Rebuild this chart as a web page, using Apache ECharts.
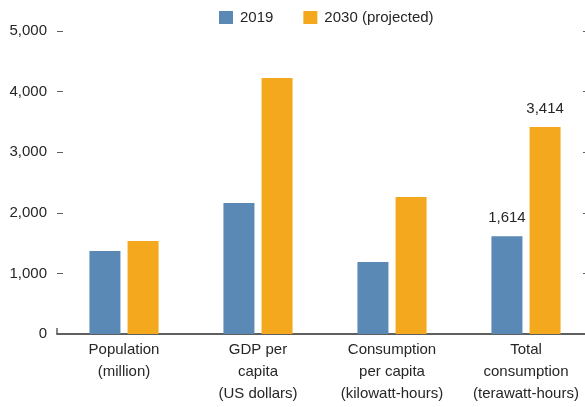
<!DOCTYPE html>
<html>
<head>
<meta charset="utf-8">
<style>
  html, body { margin: 0; padding: 0; background: #ffffff; }
  #chart { width: 585px; height: 407px; }
</style>
<script src="https://cdn.jsdelivr.net/npm/echarts@6/dist/echarts.min.js"></script>
</head>
<body>
<div id="chart"></div>
<script>
// Indicator groups along the x axis
const categories = [
  'Population\n(million)',
  'GDP per\ncapita\n(US dollars)',
  'Consumption\nper capita\n(kilowatt-hours)',
  'Total\nconsumption\n(terawatt-hours)'
];
const seriesNames = ['2019', '2030 (projected)'];
const values2019 = [1370, 2162, 1188, 1614];
const values2030 = [1535, 4224, 2261, 3414];
// Only the total consumption pair carries a value label
const labelledIndex = 3;
const yTicks = [0, 1000, 2000, 3000, 4000, 5000];

const FONT = '"Liberation Sans", Arial, sans-serif';
const TEXT = '#262626';
const AXIS = '#5f5f5f';
const BLUE = '#5a89b5';
const ORANGE = '#f4a81e';

const fmt = v => Number(v).toLocaleString('en-US');

function withLabels(arr) {
  return arr.map((v, i) => i === labelledIndex
    ? { value: v, label: { show: true } }
    : v);
}

const chart = echarts.init(document.getElementById('chart'), null, { renderer: 'canvas' });

chart.setOption({
  animation: false,
  textStyle: { fontFamily: FONT },
  legend: {
    top: 5,
    left: 214,
    itemWidth: 14,
    itemHeight: 13,
    itemGap: 30,
    icon: 'rect',
    textStyle: { fontFamily: FONT, fontSize: 15, color: TEXT, padding: [0, 0, 0, 2] },
    data: seriesNames
  },
  // the plot runs a little past the right edge of the canvas
  grid: {
    left: 57, top: 31, right: -8, height: 303,
    containLabel: false,
    outerBoundsMode: 'none'
  },
  xAxis: [
    {
      type: 'category',
      data: categories,
      axisLine: { show: true, lineStyle: { color: AXIS, width: 2 } },
      axisTick: { show: false },
      axisLabel: {
        margin: 5,
        fontFamily: FONT,
        fontSize: 15,
        color: TEXT,
        lineHeight: 22,
        interval: 0
      }
    },
    {
      // short upright mark at the left end of the baseline
      type: 'value',
      position: 'bottom',
      min: 0,
      max: 1,
      interval: 1,
      axisLine: { show: false },
      axisTick: { show: true, inside: true, length: 6, lineStyle: { color: AXIS, width: 1.5 } },
      axisLabel: { show: false },
      splitLine: { show: false }
    }
  ],
  yAxis: [
    {
      type: 'value',
      min: yTicks[0],
      max: yTicks[yTicks.length - 1],
      interval: 1000,
      axisLine: { show: false },
      axisTick: { show: true, inside: true, length: 6, lineStyle: { color: AXIS, width: 1 } },
      splitLine: { show: false },
      axisLabel: {
        margin: 10,
        fontFamily: FONT,
        fontSize: 15,
        color: TEXT,
        formatter: v => fmt(v)
      }
    },
    {
      // tick marks along the right edge
      type: 'value',
      position: 'right',
      offset: -10,
      min: yTicks[0],
      max: yTicks[yTicks.length - 1],
      interval: 1000,
      axisLine: { show: false },
      axisTick: { show: true, inside: false, length: 6, lineStyle: { color: AXIS, width: 1 } },
      axisLabel: { show: false },
      splitLine: { show: false }
    }
  ],
  series: [
    {
      name: seriesNames[0],
      type: 'bar',
      xAxisIndex: 0,
      yAxisIndex: 0,
      barWidth: 31,
      barGap: '23%',
      itemStyle: { color: BLUE },
      label: {
        show: false,
        position: 'top',
        distance: 11,
        fontFamily: FONT,
        fontSize: 15,
        color: TEXT,
        formatter: p => fmt(p.value)
      },
      data: withLabels(values2019)
    },
    {
      name: seriesNames[1],
      type: 'bar',
      xAxisIndex: 0,
      yAxisIndex: 0,
      barWidth: 31,
      barGap: '23%',
      itemStyle: { color: ORANGE },
      label: {
        show: false,
        position: 'top',
        distance: 11,
        fontFamily: FONT,
        fontSize: 15,
        color: TEXT,
        formatter: p => fmt(p.value)
      },
      data: withLabels(values2030)
    }
  ]
});
</script>
</body>
</html>
